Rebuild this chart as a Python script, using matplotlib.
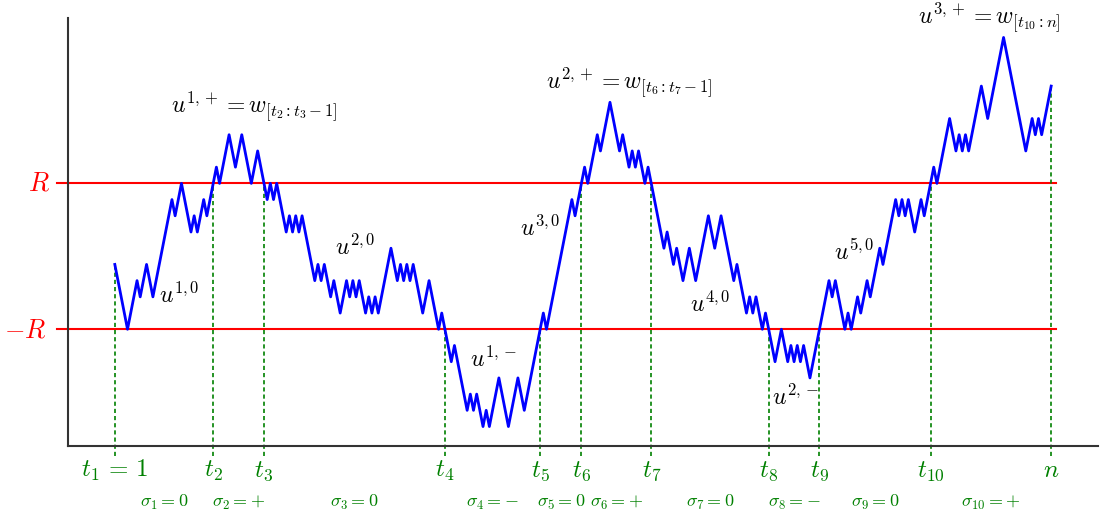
import numpy as np
import matplotlib
matplotlib.use("Agg")
import matplotlib.pyplot as plt

plt.rcParams['mathtext.fontset'] = 'cm'
plt.rcParams['font.family'] = 'DejaVu Sans'

# turning points of the walk (time index, level), -R at level 0 and R at level 9
turn_t = [1, 5, 8, 9, 11, 13, 19, 20, 22, 25, 26, 27, 29, 30, 33, 34, 37, 39, 41, 44,
          46, 49, 50, 51, 52, 55, 56, 57, 58, 59, 60, 64, 65, 66, 67, 69, 70, 72, 74, 75,
          76, 77, 78, 80, 81, 82, 83, 84, 88, 90, 91, 92, 93, 94, 95, 98, 100, 103, 104, 107,
          108, 112, 113, 114, 115, 117, 118, 119, 122, 125, 128, 130, 136, 137, 145, 146, 149, 150, 153, 154,
          157, 160, 161, 163, 164, 165, 166, 168, 169, 174, 175, 177, 178, 180, 182, 184, 188, 190, 192, 196,
          197, 200, 201, 202, 203, 205, 206, 209, 211, 213, 214, 215, 216, 217, 218, 220, 226, 227, 228, 231,
          232, 233, 235, 236, 238, 239, 242, 243, 247, 248, 249, 250, 251, 253, 255, 256, 259, 260, 264, 266,
          267, 268, 269, 270, 274, 276, 281, 288, 290, 291, 292, 293, 296]
turn_y = [4, 0, 3, 2, 4, 2, 8, 7, 9, 6, 7, 6, 8, 7, 10, 9, 12, 10, 12, 9,
          11, 8, 9, 8, 9, 6, 7, 6, 7, 6, 7, 3, 4, 3, 4, 2, 3, 1, 3, 2,
          3, 2, 3, 1, 2, 1, 2, 1, 5, 3, 4, 3, 4, 3, 4, 1, 3, 0, 1, -2,
          -1, -5, -4, -5, -4, -6, -5, -6, -3, -6, -3, -5, 1, 0, 8, 7, 10, 9, 12, 11,
          14, 11, 12, 10, 11, 10, 11, 9, 10, 5, 6, 4, 5, 3, 5, 3, 7, 5, 7, 3,
          4, 1, 2, 1, 2, 0, 1, -2, 0, -2, -1, -2, -1, -2, -1, -3, 3, 2, 3, 0,
          1, 0, 2, 1, 3, 2, 5, 4, 8, 7, 8, 7, 8, 6, 8, 7, 10, 9, 13, 11,
          12, 11, 12, 11, 15, 13, 18, 11, 13, 12, 13, 12, 15]

lower = 0
upper = 9

# segment boundaries
marks = [1, 32, 48, 105, 135, 148, 170, 207, 223, 258, 296]
mark_labels = [r'$t_1 \,=\, 1$', r'$t_2$', r'$t_3$', r'$t_4$', r'$t_5$', r'$t_6$',
               r'$t_7$', r'$t_8$', r'$t_9$', r'$t_{10}$', r'$n$']
sigma_vals = ['0', '+', '0', '-', '0', '+', '0', '-', '0', '+']

# segment names and where they sit
seg_labels = [r'$u^{1,0}$', r'$u^{1,+} = w_{[t_2:t_3-1]}$', r'$u^{2,0}$', r'$u^{1,-}$',
              r'$u^{3,0}$', r'$u^{2,+} = w_{[t_6:t_7-1]}$', r'$u^{4,0}$', r'$u^{2,-}$',
              r'$u^{5,0}$', r'$u^{3,+} = w_{[t_{10}:n]}$']
seg_x = [21.2, 45.1, 76.6, 120.4, 134.9, 163.0, 188.5, 215.6, 233.9, 276.5]
seg_y = [2.1, 13.7, 5.06, -1.85, 6.23, 15.23, 1.54, -4.19, 4.75, 19.2]

fig = plt.figure(figsize=(11.03, 5.21), dpi=100)
ax = fig.add_axes([68 / 1103, 75 / 521, 1030 / 1103, 428 / 521])

ax.plot(turn_t, turn_y, color='blue', lw=2.0, zorder=3)

for lev in (lower, upper):
    ax.plot([-17.3, 297.6], [lev, lev], color='red', lw=1.5, clip_on=False, zorder=2)

ax.text(-19.5, upper, r'$R$', color='red', fontsize=19, ha='right', va='center')
ax.text(-20.4, lower - 0.1, r'$-R$', color='red', fontsize=19, ha='right', va='center')

walk_at = np.interp(marks, turn_t, turn_y)
for t, w, lab in zip(marks, walk_at, mark_labels):
    ax.plot([t, t], [-7.8, w], color='green', lw=1.2, ls=(0, (2.5, 1.8)),
            clip_on=False, zorder=2)
    ax.text(t, -9.12, lab, color='green', fontsize=18, ha='center', va='baseline')

for i, s in enumerate(sigma_vals):
    mid = (marks[i] + marks[i + 1]) / 2
    ax.text(mid, -10.97, r'$\sigma_{%d} = %s$' % (i + 1, s), color='green',
            fontsize=13, ha='center', va='baseline')

for lab, x, y in zip(seg_labels, seg_x, seg_y):
    ax.text(x, y, lab, fontsize=17, ha='center', va='center')

ax.set_xlim(-13.75, 310.75)
ax.set_ylim(-7.2, 19.2)
ax.set_xticks([])
ax.set_yticks([])
for side in ('top', 'right'):
    ax.spines[side].set_visible(False)
for side in ('left', 'bottom'):
    ax.spines[side].set_color('#333333')
    ax.spines[side].set_linewidth(1.5)

fig.savefig('out.png', dpi=100)
